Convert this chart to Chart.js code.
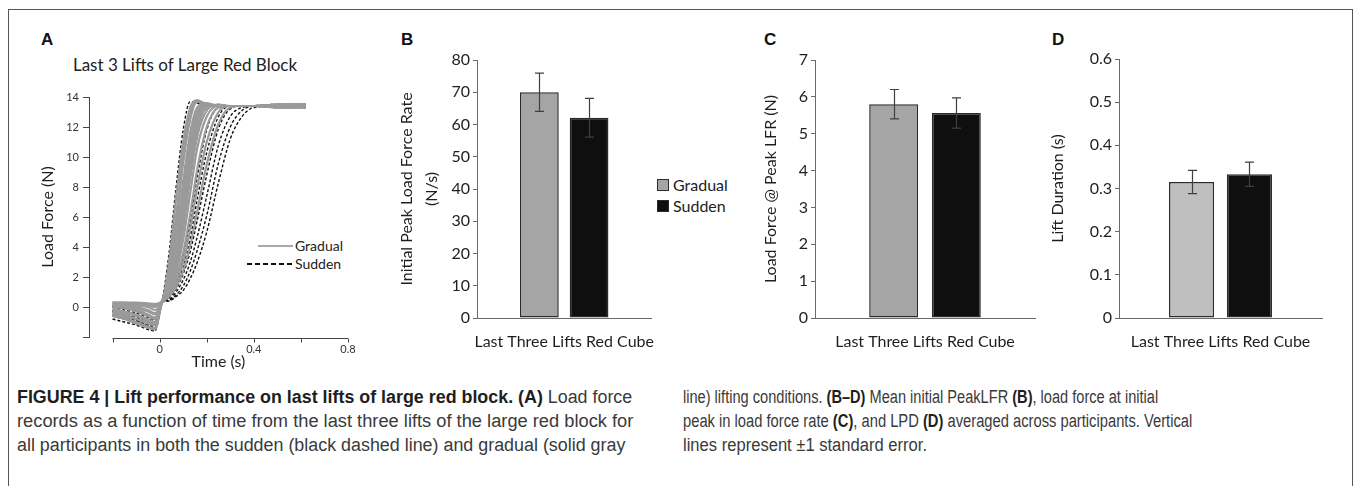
<!DOCTYPE html>
<html>
<head>
<meta charset="utf-8">
<title>Figure 4</title>
<script src="https://cdn.jsdelivr.net/npm/chart.js@4.4.1/dist/chart.umd.min.js"></script>
<style>
  body { margin: 0; background: #fff; }
  #page { position: relative; width: 1357px; height: 486px; overflow: hidden; font-family: Lato, sans-serif; color: #222; }
  #frame { position: absolute; left: 8px; top: 9px; width: 1345px; height: 600px; box-sizing: border-box; border: 1.5px solid #555; }
  canvas { position: absolute; }
  .letter { position: absolute; top: 31px; font: bold 17px/17px "Liberation Sans", Arial, sans-serif; color: #111; }
  .txt { position: absolute; white-space: nowrap; }
  .cap { position: absolute; white-space: nowrap; font: 18px/20px "Liberation Sans Narrow", "Liberation Sans", Arial, sans-serif; color: #3a3a3a; transform-origin: 0 50%; }
  .cap b { color: #1e1e1e; }
  .sw { position: absolute; width: 12px; height: 12px; box-sizing: border-box; border: 1.5px solid #2b2b2b; }
</style>
</head>
<body>
<div id="page">
  <div id="frame"></div>

  <div class="letter" style="left:41px">A</div>
  <div class="letter" style="left:401px">B</div>
  <div class="letter" style="left:764px">C</div>
  <div class="letter" style="left:1052px">D</div>

  <div class="txt" style="left:35px;top:55px;width:300px;text-align:center;font-size:17px;line-height:20px">Last 3 Lifts of Large Red Block</div>

  <!-- legend of panel A -->
  <div style="position:absolute;left:258px;top:245px;width:35px;height:1.5px;background:#a8a8a8"></div>
  <div class="txt" style="left:295px;top:237px;font-size:14px;line-height:17px">Gradual</div>
  <div style="position:absolute;left:247px;top:263px;width:46px;height:1.5px;background:repeating-linear-gradient(90deg,#111 0 5px,transparent 5px 8px)"></div>
  <div class="txt" style="left:295px;top:255px;font-size:14px;line-height:17px">Sudden</div>

  <!-- legend of panel B -->
  <div class="sw" style="left:657px;top:179px;background:#a5a5a5"></div>
  <div class="txt" style="left:673px;top:175px;font-size:16px;line-height:20px">Gradual</div>
  <div class="sw" style="left:657px;top:200px;background:#0f0f0f"></div>
  <div class="txt" style="left:673px;top:196px;font-size:16px;line-height:20px">Sudden</div>

  <canvas id="panelA" width="340" height="290" style="left:34px;top:85px"></canvas>
  <canvas id="panelB" width="283" height="330" style="left:390px;top:40px"></canvas>
  <canvas id="panelC" width="288" height="330" style="left:757px;top:40px"></canvas>
  <canvas id="panelD" width="288" height="331" style="left:1044px;top:39px"></canvas>

  <div class="cap" data-w="615" style="left:17px;top:387px"><b>FIGURE 4 | Lift performance on last lifts of large red block. (A)</b> Load force</div>
  <div class="cap" data-w="616" style="left:17px;top:411px">records as a function of time from the last three lifts of the large red block for</div>
  <div class="cap" data-w="608" style="left:17px;top:435px">all participants in both the sudden (black dashed line) and gradual (solid gray</div>
  <div class="cap" data-w="475" style="left:683px;top:387px">line) lifting conditions. <b>(B–D)</b> Mean initial PeakLFR <b>(B)</b>, load force at initial</div>
  <div class="cap" data-w="509" style="left:683px;top:411px">peak in load force rate <b>(C)</b>, and LPD <b>(D)</b> averaged across participants. Vertical</div>
  <div class="cap" data-w="244" style="left:683px;top:435px">lines represent ±1 standard error.</div>
</div>

<script>
"use strict";

// ---- panel A: load force traces (N) sampled at these times (s)
const liftTime = [-0.2, -0.15, -0.1, -0.05, -0.02, 0.01, 0.04, 0.07, 0.1, 0.13, 0.16, 0.2, 0.25, 0.3, 0.35, 0.4, 0.5, 0.62];

const gradualTraces = [
	[0.3, 0.3, 0.3, 0.25, 0.2, 0.4, 3.0, 7.3, 11.0, 13.3, 13.8, 13.5, 13.4, 13.4, 13.4, 13.4, 13.4, 13.4],
	[0.2, 0.1, 0.0, -0.2, -0.4, 0.35, 2.5, 6.1, 10.2, 12.9, 13.7, 13.5, 13.4, 13.4, 13.4, 13.4, 13.5, 13.5],
	[0.1, 0.0, -0.2, -0.5, -0.7, 0.35, 2.2, 5.5, 9.6, 12.5, 13.7, 13.5, 13.4, 13.4, 13.4, 13.4, 13.3, 13.3],
	[-0.3, -0.5, -0.8, -1.0, -1.1, 0.3, 1.8, 4.6, 8.3, 11.6, 13.3, 13.6, 13.4, 13.4, 13.4, 13.4, 13.4, 13.4],
	[-0.6, -0.8, -1.1, -1.4, -1.5, 0.3, 1.6, 4.2, 7.7, 11.1, 13.1, 13.5, 13.4, 13.4, 13.4, 13.4, 13.5, 13.5],
	[0.2, 0.2, 0.1, 0.0, -0.2, 0.3, 1.5, 3.8, 7.2, 10.6, 12.8, 13.5, 13.4, 13.4, 13.4, 13.4, 13.4, 13.4],
	[0.3, 0.3, 0.2, 0.2, 0.1, 0.3, 1.4, 3.5, 6.7, 10.1, 12.5, 13.5, 13.4, 13.4, 13.4, 13.4, 13.3, 13.3],
	[-0.5, -0.7, -1.0, -1.3, -1.4, 0.3, 1.3, 3.2, 6.2, 9.6, 12.1, 13.4, 13.4, 13.4, 13.4, 13.4, 13.4, 13.4],
	[-0.1, -0.3, -0.5, -0.8, -1.0, 0.3, 1.2, 2.9, 5.7, 9.1, 11.8, 13.3, 13.4, 13.4, 13.4, 13.4, 13.5, 13.5],
	[0.0, -0.1, -0.3, -0.6, -0.8, 0.3, 1.1, 2.7, 5.3, 8.6, 11.4, 13.1, 13.5, 13.4, 13.4, 13.4, 13.4, 13.4],
	[-0.2, -0.4, -0.6, -0.9, -1.0, 0.3, 1.0, 2.3, 4.5, 7.6, 10.6, 12.7, 13.4, 13.4, 13.4, 13.4, 13.3, 13.3],
	[0.3, 0.2, 0.2, 0.1, 0.0, 0.3, 0.9, 1.9, 3.6, 6.2, 9.2, 12.0, 13.3, 13.4, 13.4, 13.4, 13.4, 13.4],
	[-0.4, -0.6, -0.8, -1.1, -1.2, 0.3, 0.8, 1.6, 3.0, 5.2, 8.0, 11.0, 13.0, 13.4, 13.4, 13.4, 13.5, 13.5],
	[0.1, 0.0, -0.1, -0.3, -0.5, 0.3, 0.7, 1.3, 2.4, 4.1, 6.4, 9.5, 12.2, 13.3, 13.4, 13.4, 13.4, 13.4]
];

const suddenTraces = [
	[0.0, -0.1, -0.3, -0.6, -0.9, 0.4, 3.6, 8.0, 11.8, 13.7, 13.6, 13.4, 13.4, 13.4, 13.4, 13.4, 13.4, 13.4],
	[-0.6, -0.8, -1.0, -1.3, -1.5, 0.3, 1.8, 4.6, 8.3, 11.6, 13.3, 13.6, 13.4, 13.4, 13.4, 13.4, 13.3, 13.3],
	[-0.3, -0.5, -0.7, -1.0, -1.2, 0.3, 1.1, 2.7, 5.3, 8.6, 11.4, 13.1, 13.5, 13.4, 13.4, 13.4, 13.4, 13.4],
	[0.1, 0.0, -0.2, -0.5, -0.8, 0.3, 0.8, 1.8, 3.3, 5.7, 8.7, 11.8, 13.3, 13.4, 13.4, 13.4, 13.5, 13.5],
	[-0.8, -1.0, -1.2, -1.5, -1.6, 0.3, 0.7, 1.5, 2.7, 4.6, 7.2, 10.3, 12.7, 13.4, 13.4, 13.4, 13.4, 13.4],
	[-0.2, -0.4, -0.6, -0.9, -1.1, 0.3, 0.6, 1.2, 2.2, 3.7, 5.8, 8.8, 11.9, 13.2, 13.4, 13.4, 13.3, 13.3],
	[-0.5, -0.7, -0.9, -1.2, -1.4, 0.3, 0.5, 1.0, 1.8, 3.0, 4.7, 7.4, 10.8, 12.7, 13.3, 13.4, 13.4, 13.4],
	[0.0, -0.2, -0.4, -0.7, -1.0, 0.3, 0.45, 0.8, 1.4, 2.4, 3.8, 6.1, 9.6, 12.0, 13.1, 13.4, 13.5, 13.5],
	[-0.3, -0.6, -0.9, -1.2, -1.3, 0.3, 0.4, 0.7, 1.1, 1.9, 3.0, 5.0, 8.3, 11.2, 12.7, 13.3, 13.4, 13.4]
];

const timeTicks = [-0.2, 0, 0.2, 0.4, 0.6, 0.8];
const timeTickLabels = ["", "0", "", "0.4", "", "0.8"];
const forceTicks = [-2, 0, 2, 4, 6, 8, 10, 12, 14];
const forceTickLabels = ["", "0", "2", "4", "6", "8", "10", "12", "14"];

// ---- panels B-D: means and standard errors, order = [Gradual, Sudden]
const barCategory = ["Last Three Lifts Red Cube"];
const seriesNames = ["Gradual", "Sudden"];

const peakRateMean = [70.0, 62.1];
const peakRateSE = [5.9, 6.0];
const peakRateTicks = [0, 10, 20, 30, 40, 50, 60, 70, 80];

const forceAtPeakMean = [5.80, 5.56];
const forceAtPeakSE = [0.40, 0.41];
const forceAtPeakTicks = [0, 1, 2, 3, 4, 5, 6, 7];

const liftDurationMean = [0.315, 0.333];
const liftDurationSE = [0.027, 0.028];
const liftDurationTicks = [0, 0.1, 0.2, 0.3, 0.4, 0.5, 0.6];
const liftDurationLabels = ["0", "0.1", "0.2", "0.3", "0.4", "0.5", "0.6"];

Chart.defaults.font.family = "Lato, 'Open Sans', sans-serif";
Chart.defaults.color = "#1e1e1e";
Chart.defaults.animation = false;
Chart.defaults.plugins.legend.display = false;
Chart.defaults.plugins.tooltip.enabled = false;

// axis line of panel A sits slightly apart from the y axis, from -0.2 to 0.8
const timeAxis = {
	id: "timeAxis",
	afterDraw(chart) {
		const x = chart.scales.x;
		const ctx = chart.ctx;
		const yy = chart.chartArea.bottom + 1.5;
		ctx.save();
		ctx.strokeStyle = "#444";
		ctx.lineWidth = 1;
		ctx.beginPath();
		ctx.moveTo(x.getPixelForValue(timeTicks[0]), yy);
		ctx.lineTo(x.getPixelForValue(timeTicks[timeTicks.length - 1]), yy);
		for (const t of timeTicks) {
			const px = Math.round(x.getPixelForValue(t)) + 0.5;
			ctx.moveTo(px, yy);
			ctx.lineTo(px, yy + 4);
		}
		ctx.stroke();
		ctx.restore();
	}
};

// +-1 SE whiskers
const errorBars = {
	id: "errorBars",
	afterDatasetsDraw(chart) {
		const ctx = chart.ctx;
		const y = chart.scales.y;
		chart.data.datasets.forEach(function (ds, i) {
			if (!ds.se) return;
			chart.getDatasetMeta(i).data.forEach(function (bar, j) {
				const v = ds.data[j], e = ds.se[j];
				const top = y.getPixelForValue(v + e);
				const bot = y.getPixelForValue(v - e);
				const cx = Math.round(bar.x) + 0.5;
				ctx.save();
				ctx.strokeStyle = "#404040";
				ctx.lineWidth = 1.2;
				ctx.beginPath();
				ctx.moveTo(cx, top); ctx.lineTo(cx, bot);
				ctx.moveTo(cx - 4.5, top); ctx.lineTo(cx + 4.5, top);
				ctx.moveTo(cx - 4.5, bot); ctx.lineTo(cx + 4.5, bot);
				ctx.stroke();
				ctx.restore();
			});
		});
	}
};

function traceData(trace) {
	return liftTime.map((t, k) => ({ x: t, y: trace[k] }));
}

// first dataset is painted last, so the grey traces sit over the dashed ones
let traceSets = [];
for (const tr of gradualTraces) {
	traceSets.push({
		data: traceData(tr),
		borderColor: "#9a9a9a",
		borderWidth: 2.2,
		pointRadius: 0,
		cubicInterpolationMode: "monotone"
	});
}
for (const tr of suddenTraces) {
	traceSets.push({
		data: traceData(tr),
		borderColor: "#111",
		borderWidth: 1.4,
		borderDash: [3, 2],
		pointRadius: 0,
		cubicInterpolationMode: "monotone"
	});
}

new Chart(document.getElementById("panelA"), {
	type: "line",
	data: { datasets: traceSets },
	options: {
		responsive: false,
		layout: { padding: { top: 12, right: 26, left: 0, bottom: 0 } },
		scales: {
			x: {
				type: "linear",
				min: -0.3,
				max: 0.8,
				afterBuildTicks: s => { s.ticks = timeTicks.map(v => ({ value: v })); },
				afterFit: s => { s.height = 38; },
				grid: { display: false, drawTicks: false },
				border: { display: false },
				ticks: {
					autoSkip: false,
					maxRotation: 0,
					padding: 6,
					font: { size: 11 },
					color: "#333",
					callback: (v, i) => timeTickLabels[i]
				},
				title: { display: true, text: "Time (s)", font: { size: 16 }, padding: { top: 0, bottom: 4 } }
			},
			y: {
				min: -2,
				max: 14,
				afterBuildTicks: s => { s.ticks = forceTicks.map(v => ({ value: v })); },
				afterFit: s => { s.width = 55; },
				grid: { drawOnChartArea: false, tickLength: 6, color: "#444" },
				border: { color: "#444" },
				ticks: {
					autoSkip: false,
					padding: 4,
					font: { size: 11 },
					color: "#333",
					callback: (v, i) => forceTickLabels[i]
				},
				title: { display: true, text: "Load Force (N)", font: { size: 16 }, padding: { top: 4, bottom: 0 } }
			}
		}
	},
	plugins: [timeAxis]
});

function barPanel(id, means, ses, ticks, labels, yTitle, titleLineHeight, yWidth, gradColor) {
	const colors = [gradColor, "#0f0f0f"];
	const datasets = seriesNames.map((name, i) => ({
		label: name,
		data: [means[i]],
		se: [ses[i]],
		backgroundColor: colors[i],
		borderColor: "#2b2b2b",
		borderWidth: 1.5,
		borderSkipped: false,
		categoryPercentage: 0.57,
		barPercentage: 0.78
	}));
	return new Chart(document.getElementById(id), {
		type: "bar",
		data: { labels: barCategory, datasets: datasets },
		options: {
			responsive: false,
			layout: { padding: { top: 20, right: 10, left: 0, bottom: 0 } },
			scales: {
				x: {
					afterFit: s => { s.height = 52; },
					grid: { display: false, drawTicks: false },
					border: { color: "#6a6a6a" },
					ticks: { padding: 14, font: { size: 16 }, color: "#1e1e1e" }
				},
				y: {
					min: ticks[0],
					max: ticks[ticks.length - 1],
					afterBuildTicks: s => { s.ticks = ticks.map(v => ({ value: v })); },
					afterFit: s => { s.width = yWidth; },
					grid: { drawOnChartArea: false, tickLength: 4, color: "#6a6a6a" },
					border: { color: "#6a6a6a" },
					ticks: {
						autoSkip: false,
						padding: 3,
						font: { size: 16 },
						color: "#1e1e1e",
						callback: (v, i) => labels[i]
					},
					title: {
						display: true,
						text: yTitle,
						font: { size: 16, lineHeight: titleLineHeight },
						padding: { top: 4, bottom: 0 }
					}
				}
			}
		},
		plugins: [errorBars]
	});
}

barPanel("panelB", peakRateMean, peakRateSE, peakRateTicks, peakRateTicks.map(String),
	["Initial Peak Load Force Rate", "(N/s)"], "25px", 87, "#a5a5a5");
barPanel("panelC", forceAtPeakMean, forceAtPeakSE, forceAtPeakTicks, forceAtPeakTicks.map(String),
	"Load Force @ Peak LFR (N)", 1.2, 58, "#a5a5a5");
barPanel("panelD", liftDurationMean, liftDurationSE, liftDurationTicks, liftDurationLabels,
	"Lift Duration (s)", 1.2, 75, "#bfbfbf");

// caption lines: squeeze to the measured line lengths of the printed caption
document.querySelectorAll(".cap").forEach(function (el) {
	const w = Number(el.dataset.w);
	el.style.transform = "scaleX(" + (w / el.offsetWidth) + ")";
});
</script>
</body>
</html>
